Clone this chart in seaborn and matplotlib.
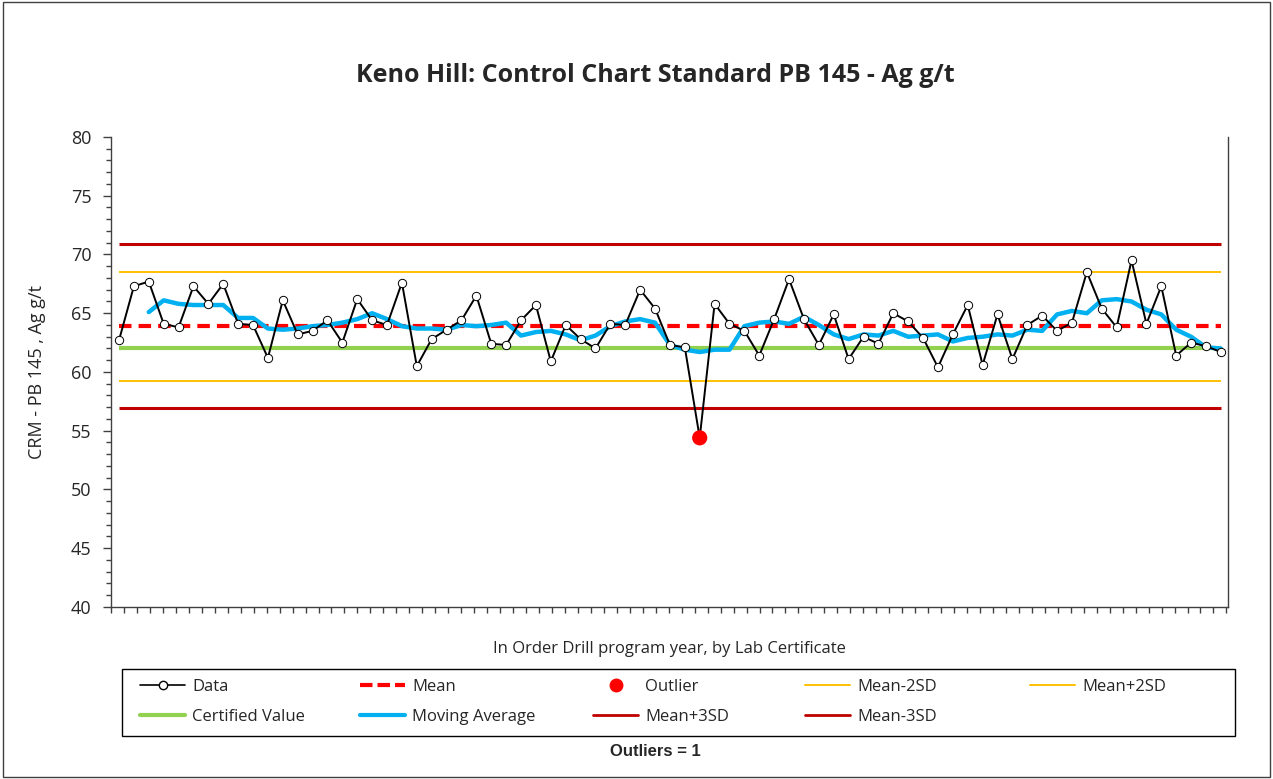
import numpy as np
import matplotlib
matplotlib.use('Agg')
import matplotlib.pyplot as plt
import seaborn as sns
from matplotlib.lines import Line2D
from matplotlib.patches import Rectangle

# Data
data_values = [62.7, 67.3, 67.7, 64.1, 63.8, 67.3, 65.8, 67.5, 64.1, 64.0,
               61.2, 66.1, 63.2, 63.5, 64.4, 62.5, 66.2, 64.4, 64.0, 67.6,
               60.5, 62.8, 63.6, 64.4, 66.5, 62.4, 62.3, 64.4, 65.7, 60.9,
               64.0, 62.8, 62.0, 64.1, 64.0, 67.0, 65.4, 62.3, 62.1, 54.4,
               65.8, 64.1, 63.5, 61.4, 64.5, 67.9, 64.5, 62.3, 64.9, 61.1,
               63.0, 62.4, 65.0, 64.3, 62.9, 60.4, 63.2, 65.7, 60.6, 64.9,
               61.1, 64.0, 64.8, 63.5, 64.2, 68.5, 65.4, 63.8, 69.5, 64.1,
               67.3, 61.4, 62.5, 62.2, 61.7]

# moving average line starts at the third sample
moving_avg = [65.1, 66.1, 65.8, 65.7, 65.7, 65.7, 64.6, 64.6, 63.7, 63.6,
              63.7, 63.9, 64.0, 64.2, 64.5, 65.0, 64.5, 63.9, 63.7, 63.7,
              63.6, 64.0, 63.9, 64.0, 64.2, 63.1, 63.4, 63.5, 63.2, 62.7,
              63.1, 63.9, 64.3, 64.5, 64.2, 62.3, 61.9, 61.7, 61.9, 61.9,
              63.9, 64.2, 64.3, 64.1, 64.7, 64.0, 63.2, 62.8, 63.2, 63.1,
              63.5, 63.0, 63.1, 63.2, 62.6, 62.9, 63.0, 63.2, 63.1, 63.6,
              63.5, 64.9, 65.2, 65.0, 66.1, 66.2, 66.0, 65.3, 64.9, 63.6,
              63.0, 62.1, 62.0]
ma_start = 2

outlier_index = [39]
outlier_value = [54.4]

mean_val = 63.9
certified_val = 62.0
mean_p2sd = 68.55
mean_m2sd = 59.25
mean_p3sd = 70.9
mean_m3sd = 56.95

sample_idx = np.arange(len(data_values))
ma_idx = np.arange(ma_start, ma_start + len(moving_avg))

sns.set_style('white')
plt.rcParams['font.family'] = ['Open Sans', 'DejaVu Sans']

W, H = 1273, 779
fig = plt.figure(figsize=(W / 100, H / 100), dpi=100)
ax = fig.add_axes([111 / W, 1 - 607 / H, (1228 - 111) / W, 470 / H])

x0, x1 = sample_idx[0], sample_idx[-1]
ax.hlines(mean_p3sd, x0, x1, color='#C00000', lw=2.2, zorder=2)
ax.hlines(mean_m3sd, x0, x1, color='#C00000', lw=2.2, zorder=2)
ax.hlines(mean_p2sd, x0, x1, color='#FFC000', lw=1.4, zorder=2)
ax.hlines(mean_m2sd, x0, x1, color='#FFC000', lw=1.4, zorder=2)
ax.hlines(certified_val, x0, x1, color='#92D050', lw=3, zorder=2)
ax.hlines(mean_val, x0, x1, color='#FF0000', lw=3, linestyles=(0, (3, 1.7)), zorder=3)

sns.lineplot(x=ma_idx, y=moving_avg, ax=ax, color='#00B0F0', lw=3.2, zorder=4)
sns.lineplot(x=sample_idx, y=data_values, ax=ax, color='black', lw=1.4,
             marker='o', markersize=6, markerfacecolor='white',
             markeredgecolor='black', markeredgewidth=0.7, zorder=5)
sns.scatterplot(x=outlier_index, y=outlier_value, ax=ax, color='#FF0000',
                s=120, edgecolor='none', zorder=6)

# axes
step = 12.97 / 14.89
left = (111 - 119) / 14.89
right = (1228 - 119) / 14.89
ax.set_xlim(left, right)
ax.set_xticks(np.arange(left, right, step))
ax.set_xticklabels([])
ax.set_ylim(40, 80)
ax.set_yticks(np.arange(40, 81, 5))
ax.set_yticks(np.arange(40, 81, 1), minor=True)
ax.tick_params(axis='x', direction='out', length=4, width=1, color='#404040', bottom=True)
ax.tick_params(axis='y', which='major', direction='out', length=6, width=1,
               color='#404040', labelsize=13, pad=8, left=True)
ax.tick_params(axis='y', which='minor', direction='out', length=3.5, width=1,
               color='#404040', left=True)
for side in ['left', 'bottom', 'right']:
    ax.spines[side].set_color('#404040')
    ax.spines[side].set_linewidth(1)
ax.spines['top'].set_visible(False)

ax.set_ylabel('CRM - PB 145 , Ag g/t', fontsize=13, labelpad=18)
ax.set_xlabel('In Order Drill program year, by Lab Certificate', fontsize=12, labelpad=17)
fig.text(0.515, 1 - 76 / H, 'Keno Hill: Control Chart Standard PB 145 - Ag g/t',
         ha='center', va='center', fontsize=18, fontweight='bold')

# legend, one column at a time so the columns sit where they do in the chart
data_h = Line2D([0, 0.5, 1], [0, 0, 0], color='black', lw=1.2, marker='o', markersize=6,
                markerfacecolor='white', markeredgecolor='black', markevery=[1])
columns = [
    ([data_h, Line2D([], [], color='#92D050', lw=3)], ['Data', 'Certified Value'], 140),
    ([Line2D([], [], color='#FF0000', lw=3, ls=(0, (3, 1.2))), Line2D([], [], color='#00B0F0', lw=3)],
     ['Mean', 'Moving Average'], 360),
    ([Line2D([], [], color='#FF0000', lw=0, marker='o', markersize=9), Line2D([], [], color='#C00000', lw=2)],
     ['Outlier', 'Mean+3SD'], 593),
    ([Line2D([], [], color='#FFC000', lw=1.4), Line2D([], [], color='#C00000', lw=2)],
     ['Mean-2SD', 'Mean-3SD'], 805),
    ([Line2D([], [], color='#FFC000', lw=1.4)], ['Mean+2SD'], 1030),
]
for handles, labels, xpx in columns:
    fig.legend(handles, labels, loc='upper left', bbox_to_anchor=(xpx / W, 1 - 679 / H),
               frameon=False, fontsize=12, handlelength=2.7, handletextpad=0.45,
               borderpad=0, borderaxespad=0, labelspacing=0.85)

fig.patches.append(Rectangle((122 / W, 1 - 736 / H), (1235 - 122) / W, 67 / H,
                             transform=fig.transFigure, fill=False,
                             edgecolor='black', lw=1))

fig.text(0.515, 1 - 752 / H, 'Outliers = 1', ha='center', va='center',
         fontsize=12, fontweight='bold', family='Liberation Sans')

fig.patches.append(Rectangle((0.002, 0.003), 0.996, 0.994, transform=fig.transFigure,
                             fill=False, edgecolor='#404040', lw=1))

fig.savefig('out.png', dpi=100)
